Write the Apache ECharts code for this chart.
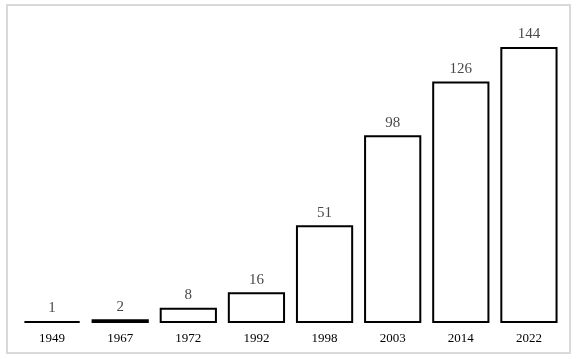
<!DOCTYPE html>
<html>
<head>
<meta charset="utf-8">
<script src="https://cdn.jsdelivr.net/npm/echarts@6/dist/echarts.min.js"></script>
<style>
  html, body { margin: 0; padding: 0; background: #fff; }
  #chart { width: 578px; height: 359px; }
</style>
</head>
<body>
<div id="chart"></div>
<script>
var years = ["1949", "1967", "1972", "1992", "1998", "2003", "2014", "2022"];
var counts = [1, 2, 8, 16, 51, 98, 126, 144];

var myChart = echarts.init(document.getElementById("chart"));
myChart.setOption({
  backgroundColor: "#fff",
  animation: false,
  graphic: [
    {
      // light frame around the figure
      type: "rect",
      shape: { x: 7, y: 5, width: 563, height: 348 },
      style: { fill: "none", stroke: "#d9d9d9", lineWidth: 2 },
      silent: true
    }
  ],
  grid: { left: 18, right: 15, top: 47, bottom: 36 },
  xAxis: {
    type: "category",
    data: years,
    axisLine: { show: false },
    axisTick: { show: false },
    axisLabel: {
      color: "#000",
      fontFamily: "Liberation Serif",
      fontSize: 13,
      margin: 9
    }
  },
  yAxis: {
    type: "value",
    min: 0,
    max: 144,
    show: false,
    splitLine: { show: false }
  },
  series: [
    {
      type: "bar",
      data: counts,
      barCategoryGap: "16%",
      itemStyle: {
        color: "#fff",
        borderColor: "#000",
        borderWidth: 2
      },
      label: {
        show: true,
        position: "top",
        distance: 5,
        color: "#4a4a4a",
        fontFamily: "Liberation Serif",
        fontSize: 15
      }
    }
  ]
});
</script>
</body>
</html>
